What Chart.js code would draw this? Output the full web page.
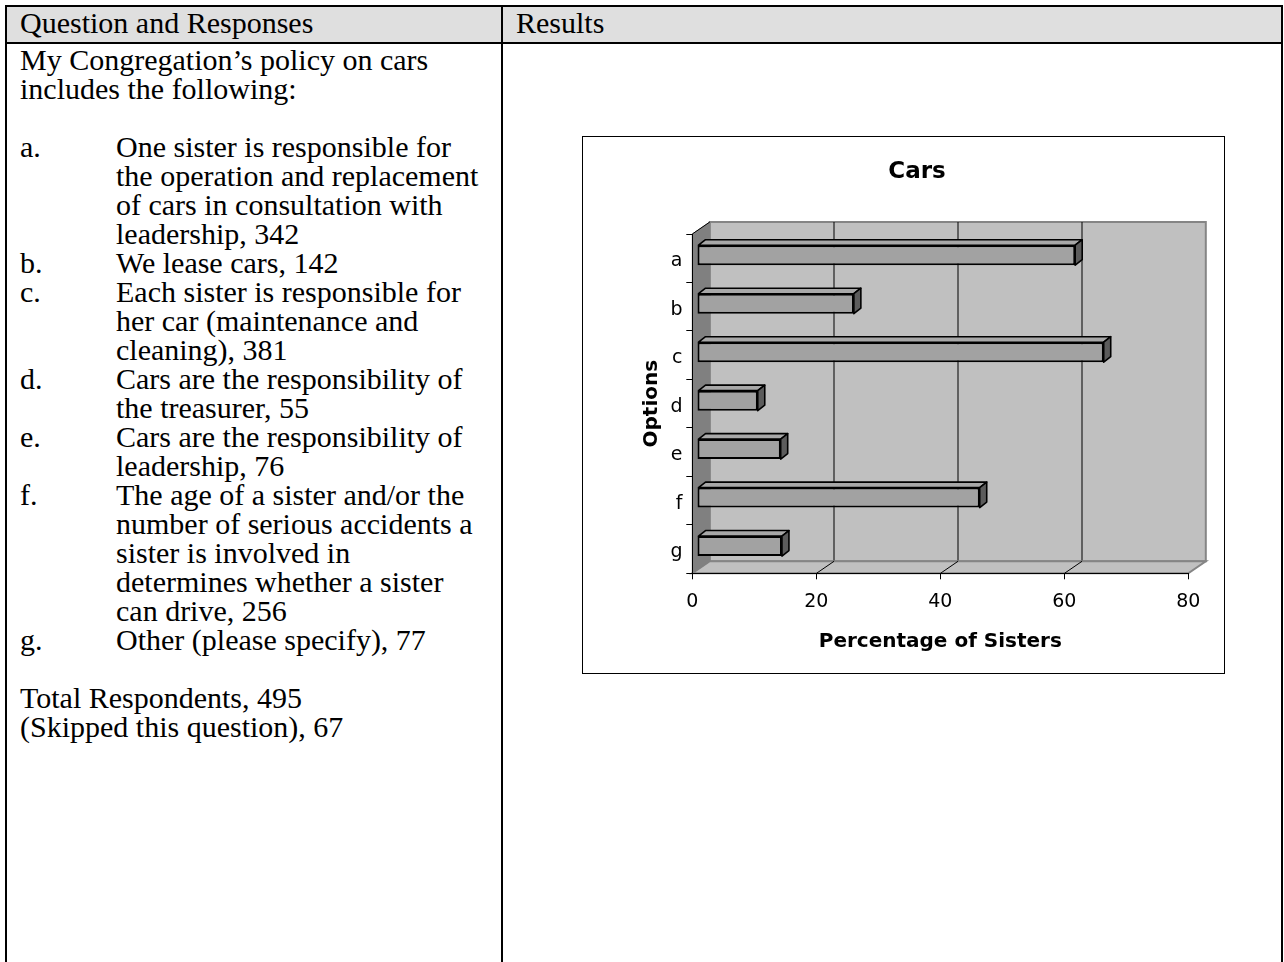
<!DOCTYPE html>
<html>
<head>
<meta charset="utf-8">
<script src="https://cdn.jsdelivr.net/npm/chart.js@4.4.0/dist/chart.umd.min.js"></script>
<style>
html,body{margin:0;padding:0;background:#fff;}
body{width:1284px;height:962px;position:relative;overflow:hidden;font-family:"Liberation Serif","Times New Roman",serif;color:#000;}
.ln{position:absolute;background:#000;}
.hdr{position:absolute;left:7px;top:7px;width:1274px;height:35px;background:#dfdfdf;}
.txt{position:absolute;font-size:30px;line-height:29px;white-space:nowrap;}
#box{position:absolute;left:582px;top:136px;width:641px;height:536px;border:1px solid #000;background:#fff;}
canvas{display:block;}
</style>
</head>
<body>
<div class="hdr"></div>
<div class="ln" style="left:5px;top:5px;width:1278px;height:2px"></div>
<div class="ln" style="left:5px;top:42px;width:1278px;height:2px"></div>
<div class="ln" style="left:5px;top:5px;width:2px;height:957px"></div>
<div class="ln" style="left:501px;top:5px;width:2px;height:957px"></div>
<div class="ln" style="left:1281px;top:5px;width:2px;height:957px"></div>

<div class="txt" style="left:20px;top:7.9px">Question and Responses</div>
<div class="txt" style="left:516px;top:7.9px">Results</div>

<div class="txt" style="left:20px;top:45.4px">My Congregation’s policy on cars<br>includes the following:<br><br>a.<br><br><br><br>b.<br>c.<br><br><br>d.<br><br>e.<br><br>f.<br><br><br><br><br>g.<br><br>Total Respondents, 495<br>(Skipped this question), 67</div>

<div class="txt" style="left:116px;top:132.4px">One sister is responsible for<br>the operation and replacement<br>of cars in consultation with<br>leadership, 342<br>We lease cars, 142<br>Each sister is responsible for<br>her car (maintenance and<br>cleaning), 381<br>Cars are the responsibility of<br>the treasurer, 55<br>Cars are the responsibility of<br>leadership, 76<br>The age of a sister and/or the<br>number of serious accidents a<br>sister is involved in<br>determines whether a sister<br>can drive, 256<br>Other (please specify), 77</div>

<div id="box"><canvas id="c" width="641" height="536"></canvas></div>

<script>
// ---- data ----
const categories = ['a', 'b', 'c', 'd', 'e', 'f', 'g'];
const percentages = [61.0, 25.3, 65.6, 9.8, 13.5, 45.6, 13.7];
const xTickValues = [0, 20, 40, 60, 80];
const chartTitle = 'Cars';
const xAxisTitle = 'Percentage of Sisters';
const yAxisTitle = 'Options';

// ---- 3D look settings ----
const WALL_DX = 17.5, WALL_DY = -12;   // depth of the plot box
const BAR_OX = 4.7, BAR_OY = -3;       // bar front face position inside the depth
const BAR_DX = 7, BAR_DY = -5.5;       // bar depth

const FONT = '"DejaVu Sans", Verdana, sans-serif';
Chart.defaults.font.family = FONT;
Chart.defaults.color = '#000';

const walls3d = {
  id: 'walls3d',
  beforeDraw(chart) {
    const {ctx, chartArea: a, scales} = chart;
    const xs = scales.x;
    const L = a.left, R = a.right, T = a.top, B = a.bottom;
    ctx.save();
    // back wall
    ctx.fillStyle = '#c0c0c0';
    ctx.strokeStyle = '#858585';
    ctx.lineWidth = 2;
    ctx.beginPath();
    ctx.rect(L + WALL_DX, T + WALL_DY, R - L, B - T);
    ctx.fill();
    ctx.stroke();
    // floor
    ctx.beginPath();
    ctx.moveTo(L, B); ctx.lineTo(R, B); ctx.lineTo(R + WALL_DX, B + WALL_DY); ctx.lineTo(L + WALL_DX, B + WALL_DY); ctx.closePath();
    ctx.fillStyle = '#c0c0c0';
    ctx.fill();
    ctx.lineWidth = 2;
    ctx.strokeStyle = '#858585';
    ctx.stroke();
    // left wall
    ctx.beginPath();
    ctx.moveTo(L, T); ctx.lineTo(L + WALL_DX, T + WALL_DY); ctx.lineTo(L + WALL_DX, B + WALL_DY); ctx.lineTo(L, B); ctx.closePath();
    ctx.fillStyle = '#808080';
    ctx.fill();
    ctx.lineWidth = 1;
    ctx.strokeStyle = '#808080';
    ctx.stroke();
    ctx.beginPath();
    ctx.moveTo(L, T); ctx.lineTo(L + WALL_DX, T + WALL_DY);
    ctx.strokeStyle = '#000';
    ctx.stroke();
    // gridlines on back wall and floor
    ctx.strokeStyle = '#000';
    ctx.lineWidth = 1;
    xs.ticks.forEach(t => {
      if (t.value <= xs.min || t.value >= xs.max) return;
      const px = Math.round(xs.getPixelForValue(t.value)) + 0.5;
      ctx.beginPath();
      ctx.moveTo(px + WALL_DX, T + WALL_DY);
      ctx.lineTo(px + WALL_DX, B + WALL_DY - 1);
      ctx.stroke();
      ctx.beginPath();
      ctx.moveTo(px, B);
      ctx.lineTo(px + WALL_DX, B + WALL_DY);
      ctx.stroke();
    });
    ctx.restore();
  },
  beforeDatasetsDraw(chart) {
    chart.ctx.save();
    chart.ctx.translate(BAR_OX, BAR_OY);
  },
  afterDatasetsDraw(chart) {
    const ctx = chart.ctx;
    const meta = chart.getDatasetMeta(0);
    ctx.lineJoin = 'round';
    ctx.lineWidth = 1.6;
    ctx.strokeStyle = '#000';
    meta.data.forEach(el => {
      const p = el.getProps(['x', 'y', 'base', 'height'], true);
      const top = p.y - p.height / 2, bot = p.y + p.height / 2;
      const left = Math.min(p.base, p.x), right = Math.max(p.base, p.x);
      ctx.beginPath();
      ctx.moveTo(left + 1, top);
      ctx.lineTo(left + 1 + BAR_DX, top + BAR_DY);
      ctx.lineTo(right + BAR_DX, top + BAR_DY);
      ctx.lineTo(right, top);
      ctx.closePath();
      ctx.fillStyle = '#a8a8a8';
      ctx.fill();
      ctx.stroke();
      ctx.beginPath();
      ctx.moveTo(right, top);
      ctx.lineTo(right + BAR_DX, top + BAR_DY);
      ctx.lineTo(right + BAR_DX, bot + BAR_DY);
      ctx.lineTo(right, bot);
      ctx.closePath();
      ctx.fillStyle = '#5c5c5c';
      ctx.fill();
      ctx.stroke();
    });
    ctx.restore();
  }
};

new Chart(document.getElementById('c'), {
  type: 'bar',
  data: {
    labels: categories,
    datasets: [{
      data: percentages,
      backgroundColor: '#a2a2a2',
      borderColor: '#000',
      borderWidth: 2,
      borderSkipped: false,
      barPercentage: 0.4126,
      categoryPercentage: 1
    }]
  },
  options: {
    indexAxis: 'y',
    responsive: false,
    devicePixelRatio: 1,
    animation: false,
    events: [],
    layout: { padding: { left: 62.7, right: 35.7, top: 0, bottom: 19.5 } },
    plugins: {
      legend: { display: false },
      tooltip: { enabled: false },
      title: {
        display: true,
        text: chartTitle,
        color: '#000',
        font: { family: FONT, size: 23, weight: 'bold', lineHeight: 1.2 },
        padding: { top: 21.7, bottom: 47.7 }
      }
    },
    scales: {
      x: {
        type: 'linear',
        min: xTickValues[0],
        max: xTickValues[xTickValues.length - 1],
        afterBuildTicks: s => { s.ticks = xTickValues.map(v => ({ value: v })); },
        ticks: { color: '#000', font: { family: FONT, size: 19 }, padding: 11, maxRotation: 0 },
        grid: { drawOnChartArea: false, drawTicks: true, tickLength: 6, color: '#000', lineWidth: 1 },
        border: { display: true, color: '#000', width: 1 },
        title: {
          display: true, text: xAxisTitle, color: '#000',
          font: { family: FONT, size: 20, weight: 'bold', lineHeight: 1.2 },
          padding: { top: 0, bottom: 0 }
        },
        afterFit: s => { s.height = 80.2; }
      },
      y: {
        ticks: { color: '#000', font: { family: FONT, size: 19 }, padding: 3.8, labelOffset: 3 },
        grid: { drawOnChartArea: false, drawTicks: true, tickLength: 6, color: '#000', offset: true },
        border: { display: true, color: '#000', width: 1 },
        title: {
          display: true, text: yAxisTitle, color: '#000',
          font: { family: FONT, size: 20, weight: 'bold', lineHeight: 1.2 },
          padding: { top: -6, bottom: 0 }
        },
        afterFit: s => { s.width = 46.6; }
      }
    }
  },
  plugins: [walls3d]
});
</script>
</body>
</html>
